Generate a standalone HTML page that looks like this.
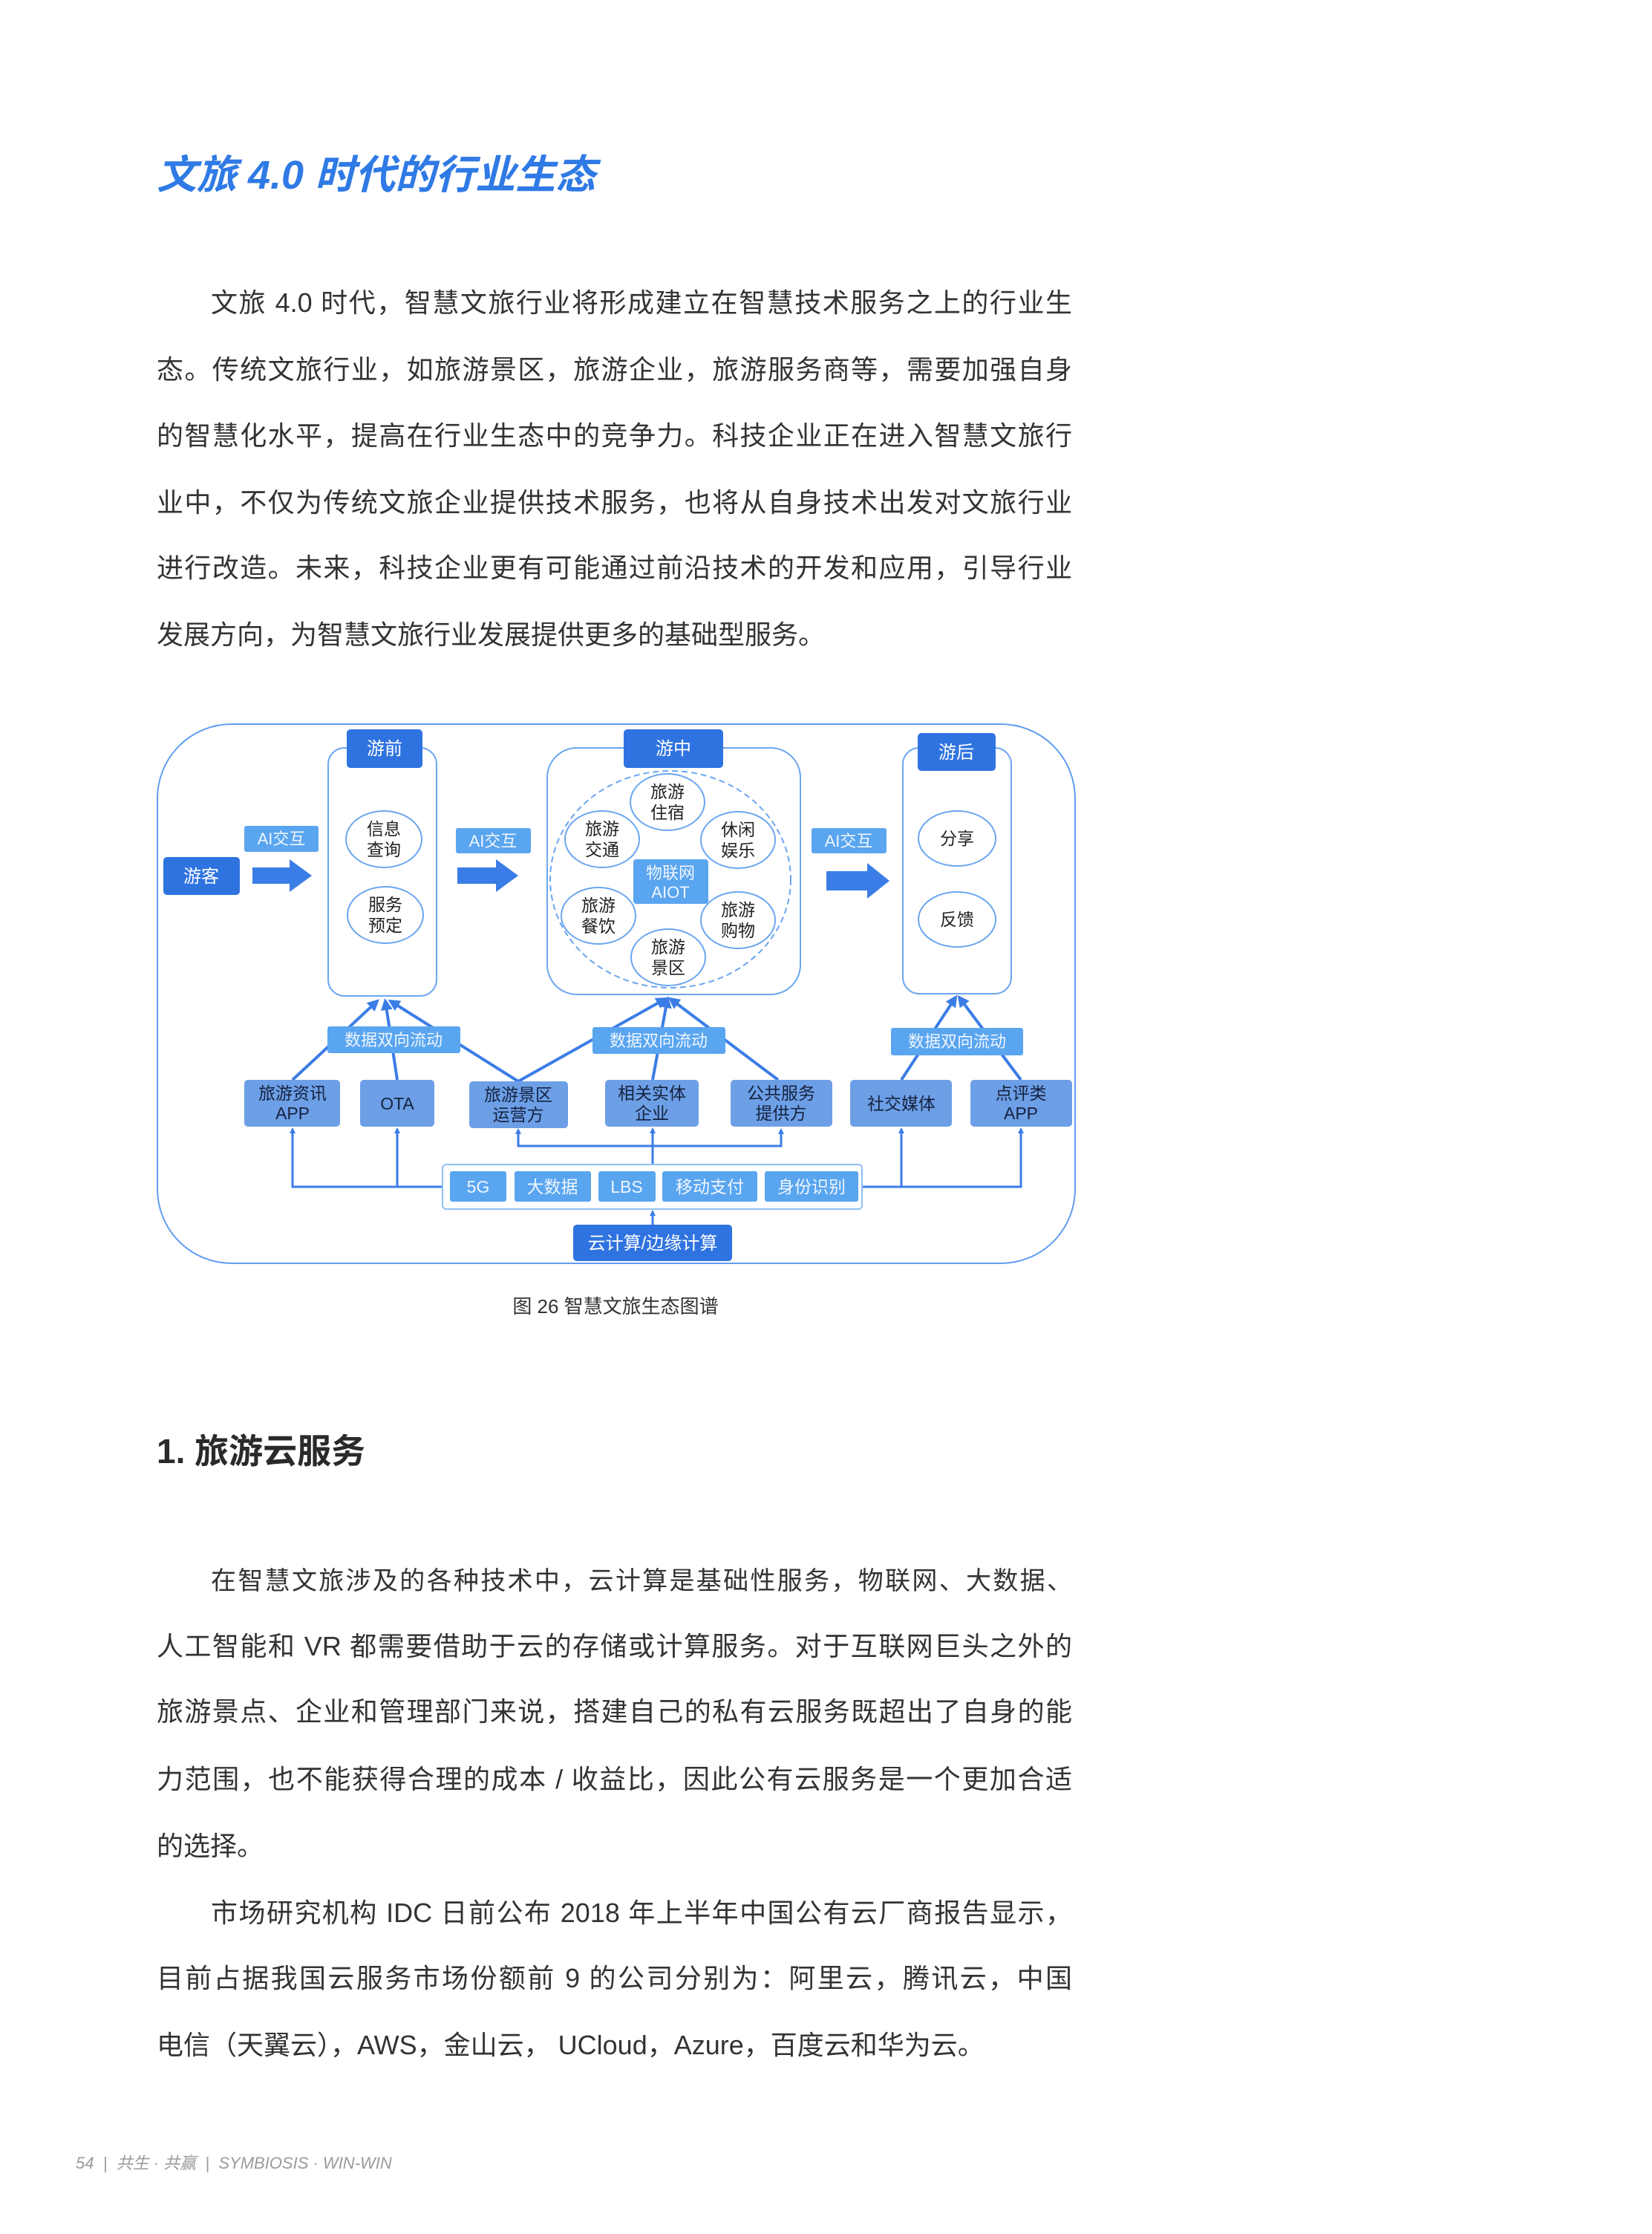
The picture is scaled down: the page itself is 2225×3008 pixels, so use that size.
<!DOCTYPE html>
<html><head><meta charset="utf-8"><style>
html,body{margin:0;padding:0;background:#fff}
body{width:2225px;height:3008px;position:relative;overflow:hidden;font-family:"Liberation Sans","Noto Sans CJK SC",sans-serif;color:#333}
.t{position:absolute;left:211px;width:1233px;font-size:36px;line-height:50px;height:50px;white-space:nowrap;overflow:visible}
.j{text-align:justify;text-align-last:justify;white-space:normal}
.i{left:284px;width:1160px}
svg text{font-family:"Liberation Sans","Noto Sans CJK SC",sans-serif}
</style></head><body>
<div style="position:absolute;left:211px;top:203px;font-size:54px;line-height:66px;font-weight:bold;font-style:italic;color:#2f7ae5;white-space:nowrap">文旅 4.0 时代的行业生态</div>

<div class="t j i" style="top:383px">文旅 4.0 时代，智慧文旅行业将形成建立在智慧技术服务之上的行业生</div>
<div class="t j" style="top:473px">态。传统文旅行业，如旅游景区，旅游企业，旅游服务商等，需要加强自身</div>
<div class="t j" style="top:562px">的智慧化水平，提高在行业生态中的竞争力。科技企业正在进入智慧文旅行</div>
<div class="t j" style="top:652px">业中，不仅为传统文旅企业提供技术服务，也将从自身技术出发对文旅行业</div>
<div class="t j" style="top:740px">进行改造。未来，科技企业更有可能通过前沿技术的开发和应用，引导行业</div>
<div class="t" style="top:830px">发展方向，为智慧文旅行业发展提供更多的基础型服务。</div>

<svg style="position:absolute;left:0;top:0" width="2225" height="1800" viewBox="0 0 2225 1800">
<defs><marker id="ah" markerWidth="8" markerHeight="8" refX="6" refY="4" orient="auto" markerUnits="userSpaceOnUse"><path d="M0,0 L8,4 L0,8 z" fill="#3b7de6"/></marker>
<marker id="ah2" markerWidth="16" markerHeight="16" refX="12" refY="8" orient="auto" markerUnits="userSpaceOnUse"><path d="M0,0 L16,8 L0,16 z" fill="#3b7de6"/></marker></defs>
<rect x="212" y="975" width="1236" height="726" rx="100" fill="none" stroke="#5f9df0" stroke-width="2"/>
<rect x="442" y="1007" width="146" height="334" rx="22" fill="#fff" stroke="#6aa6f0" stroke-width="2"/>
<rect x="737" y="1007" width="341" height="332" rx="40" fill="#fff" stroke="#6aa6f0" stroke-width="2"/>
<rect x="1216" y="1007" width="146" height="331" rx="22" fill="#fff" stroke="#6aa6f0" stroke-width="2"/>
<ellipse cx="903" cy="1184" rx="162" ry="146" fill="none" stroke="#6aa6f0" stroke-width="2" stroke-dasharray="8,5"/>
<g stroke="#3b7de6" stroke-width="4" fill="none">
<line x1="394" y1="1454" x2="508" y2="1348" marker-end="url(#ah2)"/>
<line x1="535" y1="1454" x2="519" y2="1348" marker-end="url(#ah2)"/>
<line x1="698" y1="1456" x2="526" y2="1348" marker-end="url(#ah2)"/>
<line x1="698" y1="1456" x2="896" y2="1345" marker-end="url(#ah2)"/>
<line x1="879" y1="1454" x2="899" y2="1345" marker-end="url(#ah2)"/>
<line x1="1048" y1="1454" x2="903" y2="1345" marker-end="url(#ah2)"/>
<line x1="1214" y1="1454" x2="1287" y2="1343" marker-end="url(#ah2)"/>
<line x1="1375" y1="1454" x2="1292" y2="1343" marker-end="url(#ah2)"/>
</g>
<g stroke="#3b7de6" stroke-width="3" fill="none">
<polyline points="596,1598 394,1598 394,1520" marker-end="url(#ah)"/>
<line x1="535" y1="1598" x2="535" y2="1520" marker-end="url(#ah)"/>
<polyline points="1161,1598 1375,1598 1375,1520" marker-end="url(#ah)"/>
<line x1="1214" y1="1598" x2="1214" y2="1520" marker-end="url(#ah)"/>
<line x1="879" y1="1568" x2="879" y2="1520" marker-end="url(#ah)"/>
<polyline points="698,1522 698,1543 1052,1543 1052,1522"/>
<line x1="698" y1="1543" x2="698" y2="1521" marker-end="url(#ah)"/>
<line x1="1052" y1="1543" x2="1052" y2="1521" marker-end="url(#ah)"/>
<line x1="879" y1="1649" x2="879" y2="1631" marker-end="url(#ah)"/>
</g>
<g fill="#2f73e0">
<rect x="220" y="1154" width="103" height="51" rx="5"/>
<rect x="467" y="982" width="102" height="52" rx="5"/>
<rect x="840" y="982" width="134" height="52" rx="5"/>
<rect x="1236" y="987" width="105" height="51" rx="5"/>
<rect x="772" y="1649" width="214" height="49" rx="5"/>
</g>
<g fill="#fff" font-size="24" text-anchor="middle">
<text x="271" y="1188">游客</text>
<text x="518" y="1016">游前</text>
<text x="907" y="1016">游中</text>
<text x="1288" y="1021">游后</text>
<text x="879" y="1682">云计算/边缘计算</text>
</g>
<g fill="#3b7de6">
<path d="M340,1168 h50 v-11 l30,22 l-30,22 v-11 h-50z"/>
<path d="M616,1168 h52 v-11 l30,22 l-30,22 v-11 h-52z"/>
<path d="M1113,1173 h55 v-11 l30,24 l-30,24 v-11 h-55z"/>
</g>
<g fill="#5aa5ef">
<rect x="329" y="1112" width="100" height="35" rx="3"/>
<rect x="614" y="1115" width="101" height="34" rx="3"/>
<rect x="1093" y="1115" width="101" height="34" rx="3"/>
<rect x="441" y="1382" width="179" height="36" rx="3"/>
<rect x="798" y="1383" width="179" height="36" rx="3"/>
<rect x="1200" y="1384" width="178" height="37" rx="3"/>
<rect x="853" y="1157" width="101" height="60" rx="4"/>
</g>
<g fill="#eef6ff" font-size="22" text-anchor="middle">
<text x="379" y="1137">AI交互</text>
<text x="664" y="1140">AI交互</text>
<text x="1143" y="1140">AI交互</text>
<text x="530" y="1408">数据双向流动</text>
<text x="887" y="1409">数据双向流动</text>
<text x="1289" y="1410">数据双向流动</text>
<text x="903" y="1183">物联网</text>
<text x="903" y="1209">AIOT</text>
</g>
<g fill="#fff" stroke="#6aa6f0" stroke-width="2">
<ellipse cx="517" cy="1130" rx="51" ry="38"/>
<ellipse cx="519" cy="1232" rx="51" ry="38"/>
<ellipse cx="899" cy="1080" rx="50" ry="38"/>
<ellipse cx="811" cy="1130" rx="50" ry="38"/>
<ellipse cx="994" cy="1131" rx="50" ry="38"/>
<ellipse cx="806" cy="1233" rx="50" ry="38"/>
<ellipse cx="994" cy="1239" rx="50" ry="38"/>
<ellipse cx="900" cy="1289" rx="50" ry="38"/>
<ellipse cx="1289" cy="1129" rx="52" ry="37"/>
<ellipse cx="1289" cy="1238" rx="52" ry="37"/>
</g>
<g fill="#222" font-size="23" text-anchor="middle">
<text x="517" y="1124">信息</text><text x="517" y="1152">查询</text>
<text x="519" y="1226">服务</text><text x="519" y="1254">预定</text>
<text x="899" y="1074">旅游</text><text x="899" y="1102">住宿</text>
<text x="811" y="1124">旅游</text><text x="811" y="1152">交通</text>
<text x="994" y="1125">休闲</text><text x="994" y="1153">娱乐</text>
<text x="806" y="1227">旅游</text><text x="806" y="1255">餐饮</text>
<text x="994" y="1233">旅游</text><text x="994" y="1261">购物</text>
<text x="900" y="1283">旅游</text><text x="900" y="1311">景区</text>
<text x="1289" y="1137">分享</text>
<text x="1289" y="1246">反馈</text>
</g>
<g fill="#6d9fe6">
<rect x="329" y="1454" width="129" height="63" rx="5"/>
<rect x="485" y="1454" width="100" height="63" rx="5"/>
<rect x="632" y="1456" width="133" height="63" rx="5"/>
<rect x="815" y="1454" width="126" height="63" rx="5"/>
<rect x="984" y="1454" width="137" height="63" rx="5"/>
<rect x="1145" y="1454" width="137" height="63" rx="5"/>
<rect x="1307" y="1454" width="137" height="63" rx="5"/>
</g>
<g fill="#14223f" font-size="23" text-anchor="middle">
<text x="394" y="1480">旅游资讯</text><text x="394" y="1507">APP</text>
<text x="535" y="1494">OTA</text>
<text x="698" y="1482">旅游景区</text><text x="698" y="1509">运营方</text>
<text x="878" y="1480">相关实体</text><text x="878" y="1507">企业</text>
<text x="1052" y="1480">公共服务</text><text x="1052" y="1507">提供方</text>
<text x="1214" y="1494">社交媒体</text>
<text x="1375" y="1480">点评类</text><text x="1375" y="1507">APP</text>
</g>
<rect x="596" y="1568" width="565" height="60" rx="5" fill="#fff" stroke="#8fc0f3" stroke-width="2"/>
<g fill="#5aa5ef">
<rect x="606" y="1577" width="76" height="41" rx="3"/>
<rect x="693" y="1577" width="103" height="41" rx="3"/>
<rect x="806" y="1577" width="77" height="41" rx="3"/>
<rect x="892" y="1577" width="128" height="41" rx="3"/>
<rect x="1030" y="1577" width="126" height="41" rx="3"/>
</g>
<g fill="#eef6ff" font-size="23" text-anchor="middle">
<text x="644" y="1606">5G</text>
<text x="744" y="1606">大数据</text>
<text x="844" y="1606">LBS</text>
<text x="956" y="1606">移动支付</text>
<text x="1093" y="1606">身份识别</text>
</g>
<text x="829" y="1768" font-size="26" fill="#333" text-anchor="middle">图 26  智慧文旅生态图谱</text>
</svg>

<div style="position:absolute;left:211px;top:1926px;font-size:46px;line-height:56px;font-weight:bold;color:#2a2a2a">1. 旅游云服务</div>

<div class="t j i" style="top:2104px;font-size:34px">在智慧文旅涉及的各种技术中，云计算是基础性服务，物联网、大数据、</div>
<div class="t j" style="top:2192px">人工智能和 VR 都需要借助于云的存储或计算服务。对于互联网巨头之外的</div>
<div class="t j" style="top:2280px">旅游景点、企业和管理部门来说，搭建自己的私有云服务既超出了自身的能</div>
<div class="t j" style="top:2371px">力范围，也不能获得合理的成本 / 收益比，因此公有云服务是一个更加合适</div>
<div class="t" style="top:2461px">的选择。</div>
<div class="t j i" style="top:2551px">市场研究机构 IDC 日前公布 2018 年上半年中国公有云厂商报告显示，</div>
<div class="t j" style="top:2639px">目前占据我国云服务市场份额前 9 的公司分别为：阿里云，腾讯云，中国</div>
<div class="t" style="top:2729px">电信（天翼云），AWS，金山云， UCloud，Azure，百度云和华为云。</div>

<div style="position:absolute;left:102px;top:2899px;font-size:22px;line-height:28px;color:#9a9a9a;font-style:italic;white-space:nowrap">54 &nbsp;|&nbsp; 共生 · 共赢 &nbsp;|&nbsp; SYMBIOSIS · WIN-WIN</div>
</body></html>
